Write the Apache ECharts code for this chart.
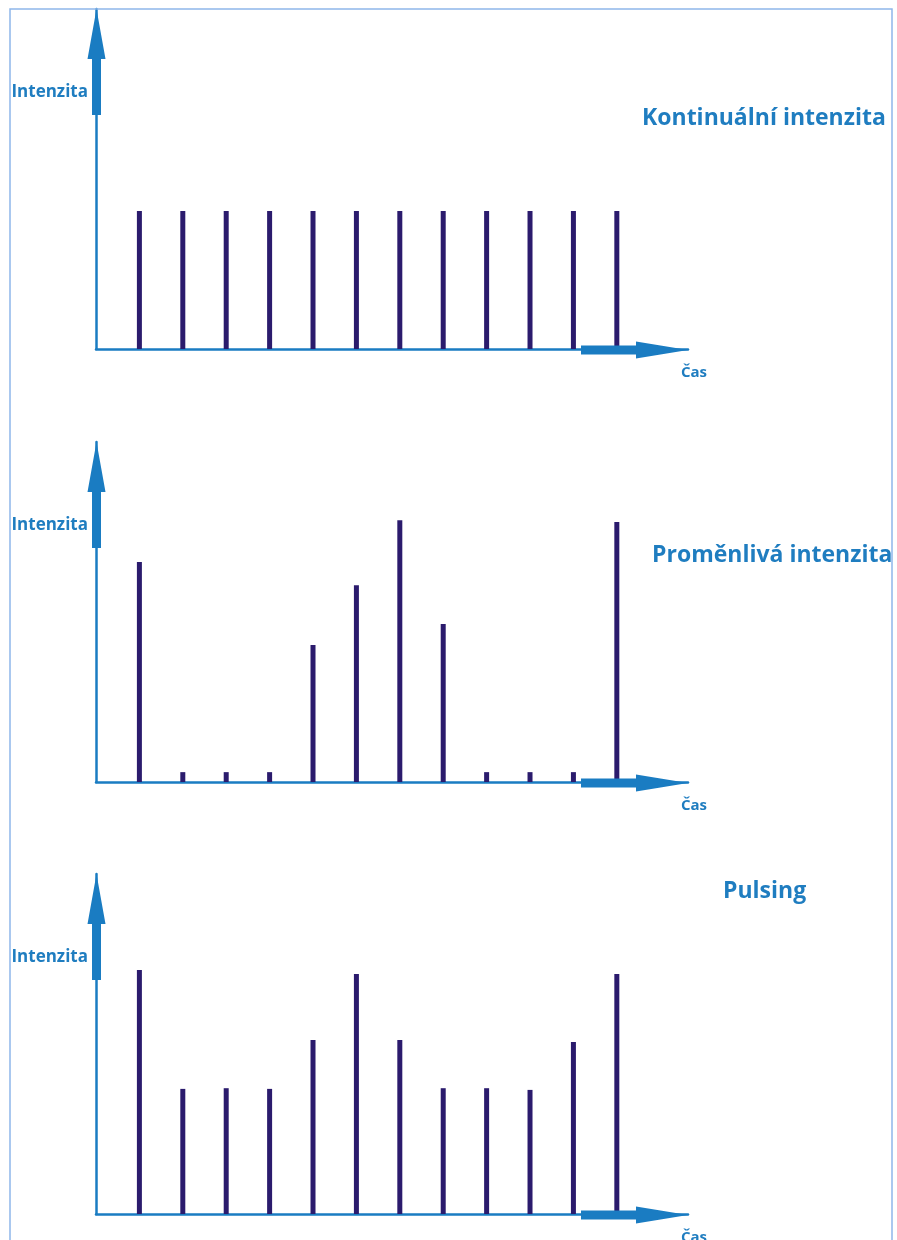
<!DOCTYPE html>
<html><head><meta charset="utf-8">
<script src="https://cdn.jsdelivr.net/npm/echarts@6/dist/echarts.min.js"></script>
<style>html,body{margin:0;padding:0;background:#fff}#c{width:897px;height:1240px}</style>
</head><body><div id="c"></div>
<script>
// ---- data ----
const slots = [1, 2, 3, 4, 5, 6, 7, 8, 9, 10, 11, 12];
const kontinualni = [40.6, 40.6, 40.6, 40.6, 40.6, 40.6, 40.6, 40.6, 40.6, 40.6, 40.6, 40.6];
const promenliva = [64.7, 2.9, 2.9, 2.9, 40.3, 57.9, 77.0, 46.5, 2.9, 2.9, 2.9, 76.5];
const pulsing = [71.8, 36.8, 37.0, 36.8, 51.2, 70.6, 51.2, 37.0, 37.0, 36.5, 50.6, 70.6];
const panelTitles = ['Kontinuální intenzita', 'Proměnlivá intenzita', 'Pulsing'];
const yLabel = 'Intenzita';
const xLabel = 'Čas';

// ---- layout / style ----
const AXIS = '#1a7cc2';
const TEXT = '#1f7dc0';
const BAR = '#2b1b6d';
const FONT = '"Open Sans", "Noto Sans", sans-serif';
const gridTops = [9, 442, 874];
const gridH = 340, gridLeft = 96, gridW = 592;
const titlePos = [[642, -231, 23], [652, -227, 23], [723, -323, 23]];
const seriesData = [kontinualni, promenliva, pulsing];

const grids = [], xAxes = [], yAxes = [], series = [], graphics = [];
graphics.push({type: 'rect', shape: {x: 10, y: 9, width: 882, height: 1260},
  style: {fill: 'none', stroke: '#8fb6ea', lineWidth: 1.5}, z: 1});

seriesData.forEach((vals, i) => {
  const top = gridTops[i];
  const yb = top + gridH;
  grids.push({left: gridLeft, top: top, width: gridW, height: gridH});
  xAxes.push({type: 'value', gridIndex: i, min: 0, max: 13.64,
    axisLine: {show: true, onZero: false, lineStyle: {color: AXIS, width: 2.5}},
    axisTick: {show: false}, axisLabel: {show: false}, splitLine: {show: false}});
  yAxes.push({type: 'value', gridIndex: i, min: 0, max: 100,
    axisLine: {show: true, lineStyle: {color: AXIS, width: 2.5}},
    axisTick: {show: false}, axisLabel: {show: false}, splitLine: {show: false}});
  series.push({type: 'bar', xAxisIndex: i, yAxisIndex: i, barWidth: 5,
    itemStyle: {color: BAR}, data: slots.map((s, k) => [s, vals[k]]), z: 2});

  const cx = 96.5;
  graphics.push({type: 'polygon', z: 10, shape: {points: [
    [cx - 4.5, yb - 234], [cx - 4.5, yb - 290], [cx - 9, yb - 290], [cx, yb - 340],
    [cx + 9, yb - 290], [cx + 4.5, yb - 290], [cx + 4.5, yb - 234]]},
    style: {fill: AXIS}});
  const cy = yb + 1;
  graphics.push({type: 'polygon', z: 10, shape: {points: [
    [581, cy - 4.5], [636, cy - 4.5], [636, cy - 8.5], [688, cy],
    [636, cy + 8.5], [636, cy + 4.5], [581, cy + 4.5]]},
    style: {fill: AXIS}});
  graphics.push({type: 'text', z: 11, x: 88, y: yb - 257,
    style: {text: yLabel, fill: TEXT, font: 'bold 17px ' + FONT, textAlign: 'right', textVerticalAlign: 'middle'}});
  graphics.push({type: 'text', z: 11, x: 681, y: yb + 24,
    style: {text: xLabel, fill: TEXT, font: 'bold 15px ' + FONT, textAlign: 'left', textVerticalAlign: 'middle'}});
  const tp = titlePos[i];
  graphics.push({type: 'text', z: 11, x: tp[0], y: yb + tp[1],
    style: {text: panelTitles[i], fill: TEXT, font: 'bold ' + tp[2] + 'px ' + FONT, textAlign: 'left', textVerticalAlign: 'middle'}});
});

const chart = echarts.init(document.getElementById('c'), null, {renderer: 'canvas'});
chart.setOption({
  animation: false,
  backgroundColor: '#ffffff',
  grid: grids, xAxis: xAxes, yAxis: yAxes, series: series, graphic: graphics
});
</script></body></html>
